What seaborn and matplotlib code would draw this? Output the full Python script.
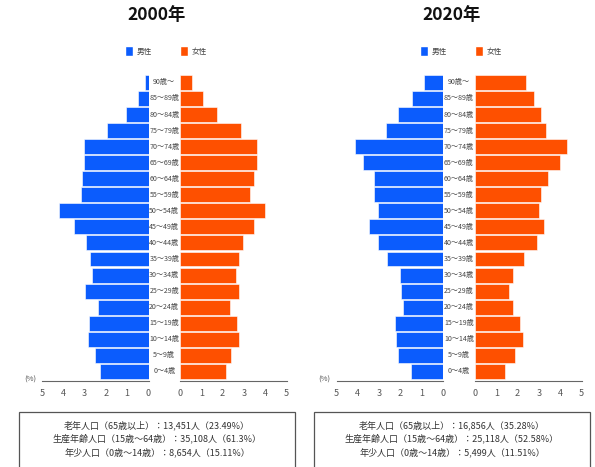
import matplotlib
matplotlib.use("Agg")
import matplotlib.pyplot as plt
import matplotlib.transforms as mtransforms
from matplotlib.patches import Patch, Rectangle
import pandas as pd
import seaborn as sns

# age groups, bottom to top
ages = ["0～4歳", "5～9歳", "10～14歳", "15～19歳", "20～24歳", "25～29歳",
        "30～34歳", "35～39歳", "40～44歳", "45～49歳", "50～54歳", "55～59歳",
        "60～64歳", "65～69歳", "70～74歳", "75～79歳", "80～84歳", "85～89歳",
        "90歳～"]

# share of total population (%)
male_2000 = [2.30, 2.52, 2.85, 2.78, 2.36, 2.99, 2.64, 2.74, 2.94, 3.51,
             4.18, 3.19, 3.14, 3.05, 3.02, 1.97, 1.05, 0.50, 0.17]
female_2000 = [2.15, 2.41, 2.75, 2.69, 2.37, 2.75, 2.61, 2.78, 2.97, 3.46,
               3.99, 3.30, 3.46, 3.60, 3.60, 2.86, 1.75, 1.10, 0.55]
male_2020 = [1.50, 2.11, 2.20, 2.25, 1.89, 1.95, 2.00, 2.61, 3.06, 3.48,
             3.05, 3.23, 3.23, 3.75, 4.13, 2.69, 2.13, 1.45, 0.88]
female_2020 = [1.43, 1.88, 2.24, 2.10, 1.77, 1.58, 1.79, 2.32, 2.90, 3.26,
               3.01, 3.10, 3.43, 3.98, 4.33, 3.35, 3.10, 2.77, 2.40]

years = ["2000年", "2020年"]
summary_2000 = ["老年人口（65歳以上）：13,451人（23.49%）",
                "生産年齢人口（15歳～64歳）：35,108人（61.3%）",
                "年少人口（0歳～14歳）：8,654人（15.11%）"]
summary_2020 = ["老年人口（65歳以上）：16,856人（35.28%）",
                "生産年齢人口（15歳～64歳）：25,118人（52.58%）",
                "年少人口（0歳～14歳）：5,499人（11.51%）"]
sex_labels = ["男性", "女性"]

BLUE = "#0b5cfd"
ORANGE = "#fe5000"

sns.set_style("white")
plt.rcParams['font.family'] = ['Noto Sans CJK JP', 'DejaVu Sans']

W, H = 595, 467
fig = plt.figure(figsize=(W / 100, H / 100), dpi=100)


def fx(px):
    return px / W


def fy(py):
    return 1 - py / H


def style_axis(ax):
    ax.set_xticks(range(6))
    ax.set_yticks([])
    ax.set_xlabel("")
    ax.set_ylabel("")
    for s in ["top", "left", "right"]:
        ax.spines[s].set_visible(False)
    ax.spines["bottom"].set_color("#666666")
    ax.spines["bottom"].set_linewidth(0.8)
    ax.tick_params(axis="x", direction="inout", length=5, width=0.8,
                   color="#666666", labelsize=6.5, labelcolor="#555555", pad=3)
    ax.set_ylim(18.6, -0.5)
    ax.patch.set_alpha(0)


def draw_panel(male, female, year, summary, male_left, female_left, center):
    df = pd.DataFrame({"age": ages, "male": male, "female": female})
    order = ages[::-1]
    bottom, height = fy(381), 306.6 / H

    ax_m = fig.add_axes([fx(male_left), bottom, 106.5 / W, height])
    sns.barplot(data=df, x="male", y="age", order=order, color=BLUE,
                saturation=1, width=0.93, edgecolor="white", linewidth=0.4,
                errorbar=None, ax=ax_m)
    ax_m.set_xlim(5, 0)
    style_axis(ax_m)

    ax_f = fig.add_axes([fx(female_left), bottom, 106.5 / W, height])
    sns.barplot(data=df, x="female", y="age", order=order, color=ORANGE,
                saturation=1, width=0.93, edgecolor="white", linewidth=0.4,
                errorbar=None, ax=ax_f)
    ax_f.set_xlim(0, 5)
    style_axis(ax_f)

    # age labels in the gap between the two halves
    gap_x = ((male_left + 106.5 + female_left) / 2 - male_left) / 106.5
    trans = mtransforms.blended_transform_factory(ax_m.transAxes, ax_m.transData)
    for i, lab in enumerate(order):
        ax_m.text(gap_x, i, lab, transform=trans, ha="center", va="center",
                  fontsize=5.1, color="#444444")

    fig.text(fx(male_left - 12), fy(380), "(%)", ha="center", va="center",
             fontsize=5.5, color="#555555")

    fig.text(fx(center), fy(15), year, ha="center", va="center",
             fontsize=12.5, fontweight="bold", color="#111111")

    handles = [Patch(facecolor=BLUE), Patch(facecolor=ORANGE)]
    fig.legend(handles, sex_labels, loc="center",
               bbox_to_anchor=(fx(center + 9), fy(51)), ncol=2,
               frameon=False, fontsize=5.5, handlelength=1.1,
               handleheight=1.5, handletextpad=0.5, columnspacing=3.6,
               labelcolor="#444444")

    # summary box (runs off the bottom edge)
    left, right = center - 138, center + 138
    fig.patches.append(Rectangle((fx(left), fy(490)), (right - left) / W,
                                 (490 - 412) / H, transform=fig.transFigure,
                                 fill=False, edgecolor="#555555", lw=0.9))
    for line, py in zip(summary, [425, 438.5, 452]):
        fig.text(fx(center), fy(py), line, ha="center", va="center",
                 fontsize=6.5, color="#333333")


draw_panel(male_2000, female_2000, years[0], summary_2000, 42, 180, 157)
draw_panel(male_2020, female_2020, years[1], summary_2020, 336.5, 475, 452)

fig.savefig("out.png", dpi=100)
